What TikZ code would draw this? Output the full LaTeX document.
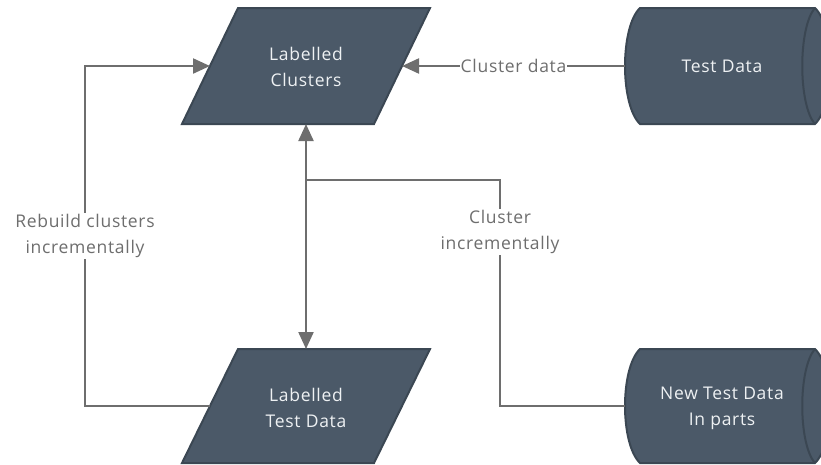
\documentclass[tikz,border=0pt]{standalone}
\usepackage{fontspec}
\setmainfont{Open Sans}[LetterSpace=4]
\usetikzlibrary{arrows.meta}
\definecolor{shapefill}{HTML}{4B5968}
\definecolor{shapeline}{HTML}{3B4753}
\definecolor{conncol}{HTML}{6E6E6E}
\definecolor{shapetext}{HTML}{EEF1F3}
\begin{document}
\begin{tikzpicture}[x=1pt,y=-1pt,
  shapebox/.style={fill=shapefill,draw=shapeline,line width=2pt,line join=miter},
  shapelabel/.style={text=shapetext,align=center,font=\fontsize{17.5}{26}\selectfont,inner sep=0pt},
  connline/.style={draw=conncol,line width=2.2pt},
  tip/.style={-{Triangle[length=17pt,width=15pt]}},
  bothtips/.style={{Triangle[length=17pt,width=15pt]}-{Triangle[length=17pt,width=15pt]}},
  edgelabel/.style={fill=white,text=conncol,align=center,font=\fontsize{17.5}{26}\selectfont,inner sep=1pt}]
\useasboundingbox (0,0) rectangle (821,464);
\clip (0,0) rectangle (821,464);
% Labelled Clusters
\path[shapebox] (238,8) -- (430,8) -- (374,124) -- (182,124) -- cycle;
\node[shapelabel] (lc) at (306,67) {Labelled\\Clusters};
\coordinate (lc-w) at (210,66);
\coordinate (lc-e) at (402,66);
\coordinate (lc-s) at (306,124);
% Labelled Test Data
\path[shapebox] (238,349) -- (430,349) -- (374,463) -- (182,463) -- cycle;
\node[shapelabel] (ltd) at (306,408) {Labelled\\Test Data};
\coordinate (ltd-w) at (210,406);
\coordinate (ltd-n) at (306,349);
% Test Data
\path[shapebox] (640,8) -- (815,8) .. controls (835,27) and (835,105) .. (815,124) -- (640,124) .. controls (620,105) and (620,27) .. (640,8) -- cycle;
\draw[draw=shapeline,line width=2pt] (815,8) .. controls (798,27) and (798,105) .. (815,124);
\node[shapelabel] (td) at (722,66) {Test Data};
\coordinate (td-w) at (625,66);
% New Test Data
\path[shapebox] (640,349) -- (815,349) .. controls (835,368) and (835,444) .. (815,463) -- (640,463) .. controls (620,444) and (620,368) .. (640,349) -- cycle;
\draw[draw=shapeline,line width=2pt] (815,349) .. controls (798,368) and (798,444) .. (815,463);
\node[shapelabel] (ntd) at (722,408) {New Test Data\\In parts};
\coordinate (ntd-w) at (625,406);
\coordinate (junc) at (306,180);
% connectors
\draw[connline,tip] (td-w) -- node[edgelabel]{Cluster data} (lc-e);
\draw[connline,tip] (ltd-w) -- ++(-125,0) |- node[edgelabel,pos=0.25]{Rebuild clusters\\incrementally} (lc-w);
\draw[connline,bothtips] (lc-s) -- (ltd-n);
\draw[connline] (ntd-w) -- ++(-125,0) |- node[edgelabel,pos=0.385]{Cluster\\incrementally} (junc);
\end{tikzpicture}
\end{document}
